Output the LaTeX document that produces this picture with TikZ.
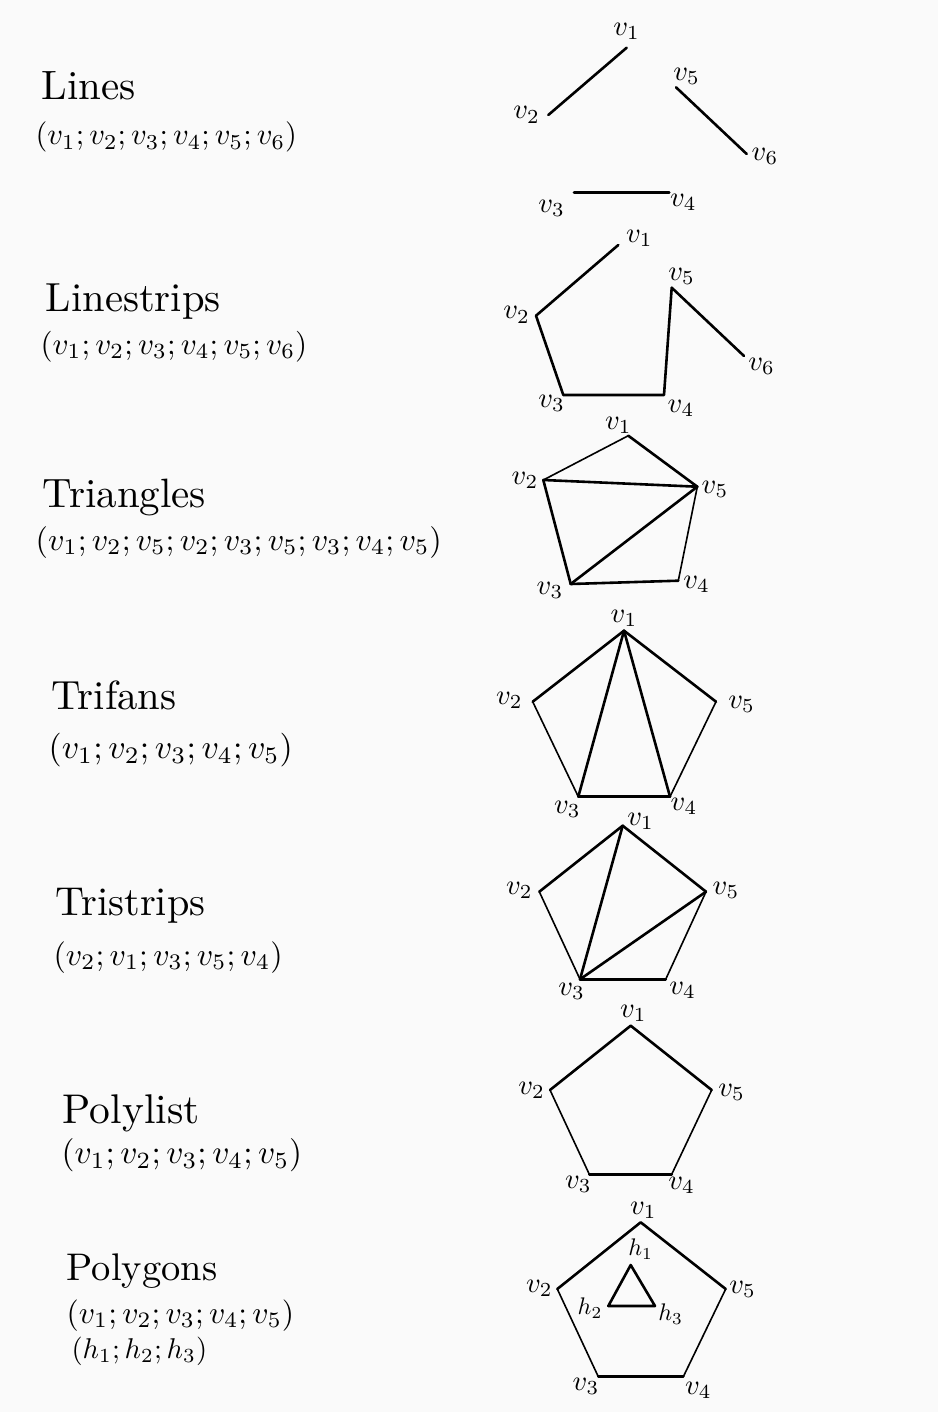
\documentclass[tikz,border=0pt]{standalone}
\definecolor{bgc}{RGB}{250,250,250}
\begin{document}
\begin{tikzpicture}[x=1pt,y=-1pt,
  title/.style={anchor=base west,inner sep=0pt},
  formula/.style={anchor=base west,inner sep=0pt},
  lab/.style={inner sep=0pt,scale=2.85},
  hlab/.style={inner sep=0pt,scale=2.4},
  thk/.style={line width=2.6pt,line cap=round,line join=round},
  thn/.style={line width=1.6pt,line cap=round,line join=round}]
\fill[bgc] (0,0) rectangle (938,1412);
\useasboundingbox (0,0) rectangle (938,1412);

% ---------- left column ----------
\node[title,scale=4.1] (tLines) at (41,100) {Lines};
\node[formula,scale=3.04] (fLines) at (35,145) {$(v_1;v_2;v_3;v_4;v_5;v_6)$};
\node[title,scale=4.06] (tLinestrips) at (45,312) {Linestrips};
\node[formula,scale=3.1] (fLinestrips) at (40,354) {$(v_1;v_2;v_3;v_4;v_5;v_6)$};
\node[title,scale=4.1] (tTriangles) at (42,507) {Triangles};
\node[formula,scale=3.19] (fTriangles) at (35,550) {$(v_1;v_2;v_5;v_2;v_3;v_5;v_3;v_4;v_5)$};
\node[title,scale=4.07] (tTrifans) at (51,709) {Trifans};
\node[formula,scale=3.38] (fTrifans) at (48,758) {$(v_1;v_2;v_3;v_4;v_5)$};
\node[title,scale=4.03] (tTristrips) at (55,915) {Tristrips};
\node[formula,scale=3.17] (fTristrips) at (53,965) {$(v_2;v_1;v_3;v_5;v_4)$};
\node[title,scale=4.15] (tPolylist) at (62,1123) {Polylist};
\node[formula,scale=3.33] (fPolylist) at (61,1163) {$(v_1;v_2;v_3;v_4;v_5)$};
\node[title,scale=3.85] (tPolygons) at (66,1280) {Polygons};
\node[formula,scale=3.15] (fPolygons) at (66,1323) {$(v_1;v_2;v_3;v_4;v_5)$};
\node[formula,scale=2.86] (hPolygons) at (71,1358) {$(h_1;h_2;h_3)$};

% ---------- Lines ----------
\coordinate (a1) at (626.7,47.7);
\coordinate (a2) at (548.3,115);
\coordinate (a3) at (574,192.3);
\coordinate (a4) at (669.3,192.3);
\coordinate (a5) at (676,87.3);
\coordinate (a6) at (746.7,154);
\draw[thk] (a1) -- (a2);
\draw[thk] (a3) -- (a4);
\draw[thk] (a5) -- (a6);
\node[lab] (la1) at (626.7,31.7) {$v_1$};
\node[lab] (la2) at (526.7,115) {$v_2$};
\node[lab] (la3) at (551.7,208.3) {$v_3$};
\node[lab] (la4) at (683.3,202.3) {$v_4$};
\node[lab] (la5) at (686.7,76.7) {$v_5$};
\node[lab] (la6) at (765,156.7) {$v_6$};

% ---------- Linestrips ----------
\coordinate (b1) at (618.3,245);
\coordinate (b2) at (536,315.7);
\coordinate (b3) at (563.3,395);
\coordinate (b4) at (664,395);
\coordinate (b5) at (671.7,287.7);
\coordinate (b6) at (744,356);
\draw[thk] (b1) -- (b2) -- (b3) -- (b4) -- (b5) -- (b6);
\node[lab] (lb1) at (639.3,238.3) {$v_1$};
\node[lab] (lb2) at (516.7,315) {$v_2$};
\node[lab] (lb3) at (551.7,403.3) {$v_3$};
\node[lab] (lb4) at (681,408.3) {$v_4$};
\node[lab] (lb5) at (681.7,276.7) {$v_5$};
\node[lab] (lb6) at (761.7,366.7) {$v_6$};

% ---------- Triangles ----------
\coordinate (c1) at (628.3,435.7);
\coordinate (c2) at (543.3,480);
\coordinate (c3) at (570.7,584);
\coordinate (c4) at (678.3,580.7);
\coordinate (c5) at (697.3,486.7);
\draw[thn] (c2) -- (c1);
\draw[thk] (c1) -- (c5);
\draw[thk] (c2) -- (c5);
\draw[thk] (c2) -- (c3);
\draw[thk] (c3) -- (c5);
\draw[thn] (c5) -- (c4);
\draw[thk] (c3) -- (c4);
\node[lab] (lc1) at (618.3,425) {$v_1$};
\node[lab] (lc2) at (525,480) {$v_2$};
\node[lab] (lc3) at (550,590) {$v_3$};
\node[lab] (lc4) at (696.7,584) {$v_4$};
\node[lab] (lc5) at (715,489.3) {$v_5$};

% ---------- Trifans ----------
\coordinate (d1) at (624,630.7);
\coordinate (d2) at (532.7,701.7);
\coordinate (d3) at (578.3,796.7);
\coordinate (d4) at (670,796.7);
\coordinate (d5) at (716,701.7);
\draw[thk] (d1) -- (d2);
\draw[thk] (d1) -- (d5);
\draw[thk] (d1) -- (d3);
\draw[thk] (d1) -- (d4);
\draw[thn] (d2) -- (d3);
\draw[thn] (d5) -- (d4);
\draw[thk] (d3) -- (d4);
\node[lab] (ld1) at (624,618.3) {$v_1$};
\node[lab] (ld2) at (509.3,700) {$v_2$};
\node[lab] (ld3) at (567.3,809.3) {$v_3$};
\node[lab] (ld4) at (684,806.7) {$v_4$};
\node[lab] (ld5) at (741.7,704) {$v_5$};

% ---------- Tristrips ----------
\coordinate (e1) at (622.7,825.7);
\coordinate (e2) at (539.3,891.7);
\coordinate (e3) at (580,979.3);
\coordinate (e4) at (665.7,979.3);
\coordinate (e5) at (706,891.7);
\draw[thk] (e2) -- (e1);
\draw[thk] (e1) -- (e5);
\draw[thk] (e1) -- (e3);
\draw[thk] (e3) -- (e5);
\draw[thn] (e2) -- (e3);
\draw[thn] (e5) -- (e4);
\draw[thk] (e3) -- (e4);
\node[lab] (le1) at (640.7,821.7) {$v_1$};
\node[lab] (le2) at (519.3,890) {$v_2$};
\node[lab] (le3) at (571.7,991.7) {$v_3$};
\node[lab] (le4) at (682.7,990) {$v_4$};
\node[lab] (le5) at (726,890) {$v_5$};

% ---------- Polylist ----------
\coordinate (f1) at (630.7,1025.7);
\coordinate (f2) at (550,1090);
\coordinate (f3) at (589.3,1174.3);
\coordinate (f4) at (671.7,1174.3);
\coordinate (f5) at (711.7,1090);
\draw[thk] (f2) -- (f1) -- (f5);
\draw[thn] (f2) -- (f3);
\draw[thn] (f5) -- (f4);
\draw[thk] (f3) -- (f4);
\node[lab] (lf1) at (633.3,1013.3) {$v_1$};
\node[lab] (lf2) at (531.7,1090) {$v_2$};
\node[lab] (lf3) at (578.3,1184.3) {$v_3$};
\node[lab] (lf4) at (681.7,1185.7) {$v_4$};
\node[lab] (lf5) at (731.7,1092.3) {$v_5$};

% ---------- Polygons ----------
\coordinate (g1) at (640.7,1222.3);
\coordinate (g2) at (557.3,1289);
\coordinate (g3) at (598.3,1376.7);
\coordinate (g4) at (683.3,1376.7);
\coordinate (g5) at (725.7,1289);
\coordinate (gh1) at (630.7,1265);
\coordinate (gh2) at (608.3,1306);
\coordinate (gh3) at (655,1306);
\draw[thk] (g2) -- (g1) -- (g5);
\draw[thn] (g2) -- (g3);
\draw[thn] (g5) -- (g4);
\draw[thk] (g3) -- (g4);
\draw[thk] (gh1) -- (gh2) -- (gh3) -- cycle;
\node[lab] (lg1) at (643.3,1210.7) {$v_1$};
\node[lab] (lg2) at (539.3,1288.3) {$v_2$};
\node[lab] (lg3) at (586,1386.7) {$v_3$};
\node[lab] (lg4) at (698.3,1390) {$v_4$};
\node[lab] (lg5) at (742.7,1289.3) {$v_5$};
\node[hlab] (lh1) at (640.7,1249.3) {$h_1$};
\node[hlab] (lh2) at (590,1308.3) {$h_2$};
\node[hlab] (lh3) at (670.7,1314) {$h_3$};
\end{tikzpicture}
\end{document}
